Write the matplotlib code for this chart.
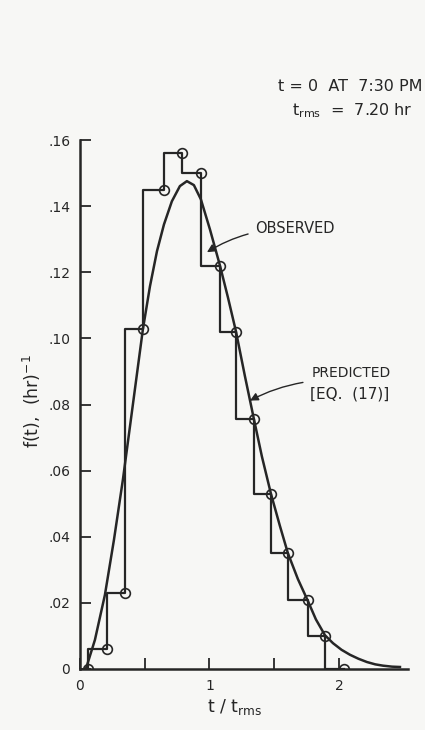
import matplotlib
matplotlib.use("Agg")
import matplotlib.pyplot as plt

# Observed (histogram-like step data, circles at the end of each hourly step)
obs_t = [0.062, 0.208, 0.347, 0.486, 0.649, 0.788, 0.934, 1.081, 1.205,
         1.344, 1.475, 1.606, 1.761, 1.892, 2.039]
obs_f = [0.0, 0.006, 0.023, 0.103, 0.145, 0.156, 0.150, 0.122, 0.102,
         0.0755, 0.053, 0.035, 0.021, 0.010, 0.0]

# Predicted curve [Eq. (17)]
pred_t = [0.046, 0.116, 0.193, 0.263, 0.332, 0.409, 0.486, 0.541, 0.595,
          0.649, 0.710, 0.772, 0.826, 0.880, 0.934, 1.004, 1.081, 1.143,
          1.205, 1.274, 1.344, 1.405, 1.475, 1.544, 1.606, 1.683, 1.761,
          1.822, 1.892, 1.954, 2.020, 2.085, 2.150, 2.216, 2.280, 2.340,
          2.410, 2.471]
pred_f = [0.000, 0.0088, 0.0224, 0.0391, 0.0573, 0.0800, 0.1027, 0.1158,
          0.1264, 0.1345, 0.1415, 0.1461, 0.1476, 0.1464, 0.1421, 0.1330,
          0.1221, 0.1124, 0.1021, 0.0886, 0.0755, 0.0643, 0.0530, 0.0433,
          0.0350, 0.0272, 0.0205, 0.0150, 0.0102, 0.0078, 0.0058, 0.0043,
          0.0031, 0.0021, 0.0014, 0.0010, 0.0007, 0.0006]

x_ticks = [0, 0.5, 1, 1.5, 2]
x_labels = ["0", "", "1", "", "2"]
y_ticks = [0, 0.02, 0.04, 0.06, 0.08, 0.10, 0.12, 0.14, 0.16]
y_labels = ["0", ".02", ".04", ".06", ".08", ".10", ".12", ".14", ".16"]

ink = "#262626"
bg = "#f7f7f5"
plt.rcParams["font.family"] = ["DejaVu Sans"]
plt.rcParams["mathtext.fontset"] = "dejavusans"

fig = plt.figure(figsize=(4.25, 7.30), dpi=100, facecolor=bg)
ax = fig.add_axes([0.188, 0.0836, 0.772, 0.7244], facecolor=bg)

ax.step(obs_t, obs_f, where="pre", color=ink, lw=1.6, zorder=3)
ax.plot(obs_t, obs_f, linestyle="none", marker="o", ms=7, mfc="none",
        mec=ink, mew=1.2, zorder=4)
ax.plot(pred_t, pred_f, color=ink, lw=1.8, zorder=3)

ax.set_xlim(0, 2.533)
ax.set_ylim(0, 0.16)
ax.set_xticks(x_ticks)
ax.set_xticklabels(x_labels)
ax.set_yticks(y_ticks)
ax.set_yticklabels(y_labels)
ax.tick_params(direction="in", length=8, width=1.3, colors=ink,
               labelsize=10, pad=7)
for s in ["top", "right"]:
    ax.spines[s].set_visible(False)
for s in ["left", "bottom"]:
    ax.spines[s].set_linewidth(1.8)
    ax.spines[s].set_color(ink)

ax.annotate("OBSERVED", xy=(0.981, 0.1261), xytext=(1.351, 0.1333),
            fontsize=10.5, color=ink, va="center", ha="left",
            arrowprops=dict(arrowstyle="-|>", color=ink, lw=1.0,
                            shrinkA=3, shrinkB=0,
                            connectionstyle="arc3,rad=0.15",
                            mutation_scale=12))
ax.annotate("", xy=(1.313, 0.0812), xytext=(1.722, 0.0867),
            arrowprops=dict(arrowstyle="-|>", color=ink, lw=1.0,
                            shrinkA=0, shrinkB=0,
                            connectionstyle="arc3,rad=0.08",
                            mutation_scale=12))
ax.text(2.093, 0.0894, "PREDICTED", fontsize=10, color=ink,
        ha="center", va="center")
ax.text(2.085, 0.0832, "[EQ.  (17)]", fontsize=11, color=ink,
        ha="center", va="center")

fig.text(0.995, 0.881, "t = 0  AT  7:30 PM", fontsize=11.5, color=ink,
         ha="right", va="center")
fig.text(0.972, 0.849, r"t$_{\rm rms}$  =  7.20 hr", fontsize=11.5,
         color=ink, ha="right", va="center")
fig.text(0.553, 0.032, r"t / t$_{\rm rms}$", fontsize=12.5, color=ink,
         ha="center", va="center")
fig.text(0.075, 0.451, r"f(t),  (hr)$^{-1}$", fontsize=12.5, color=ink,
         ha="center", va="center", rotation=90)

fig.savefig("out.png", dpi=100, facecolor=bg)
